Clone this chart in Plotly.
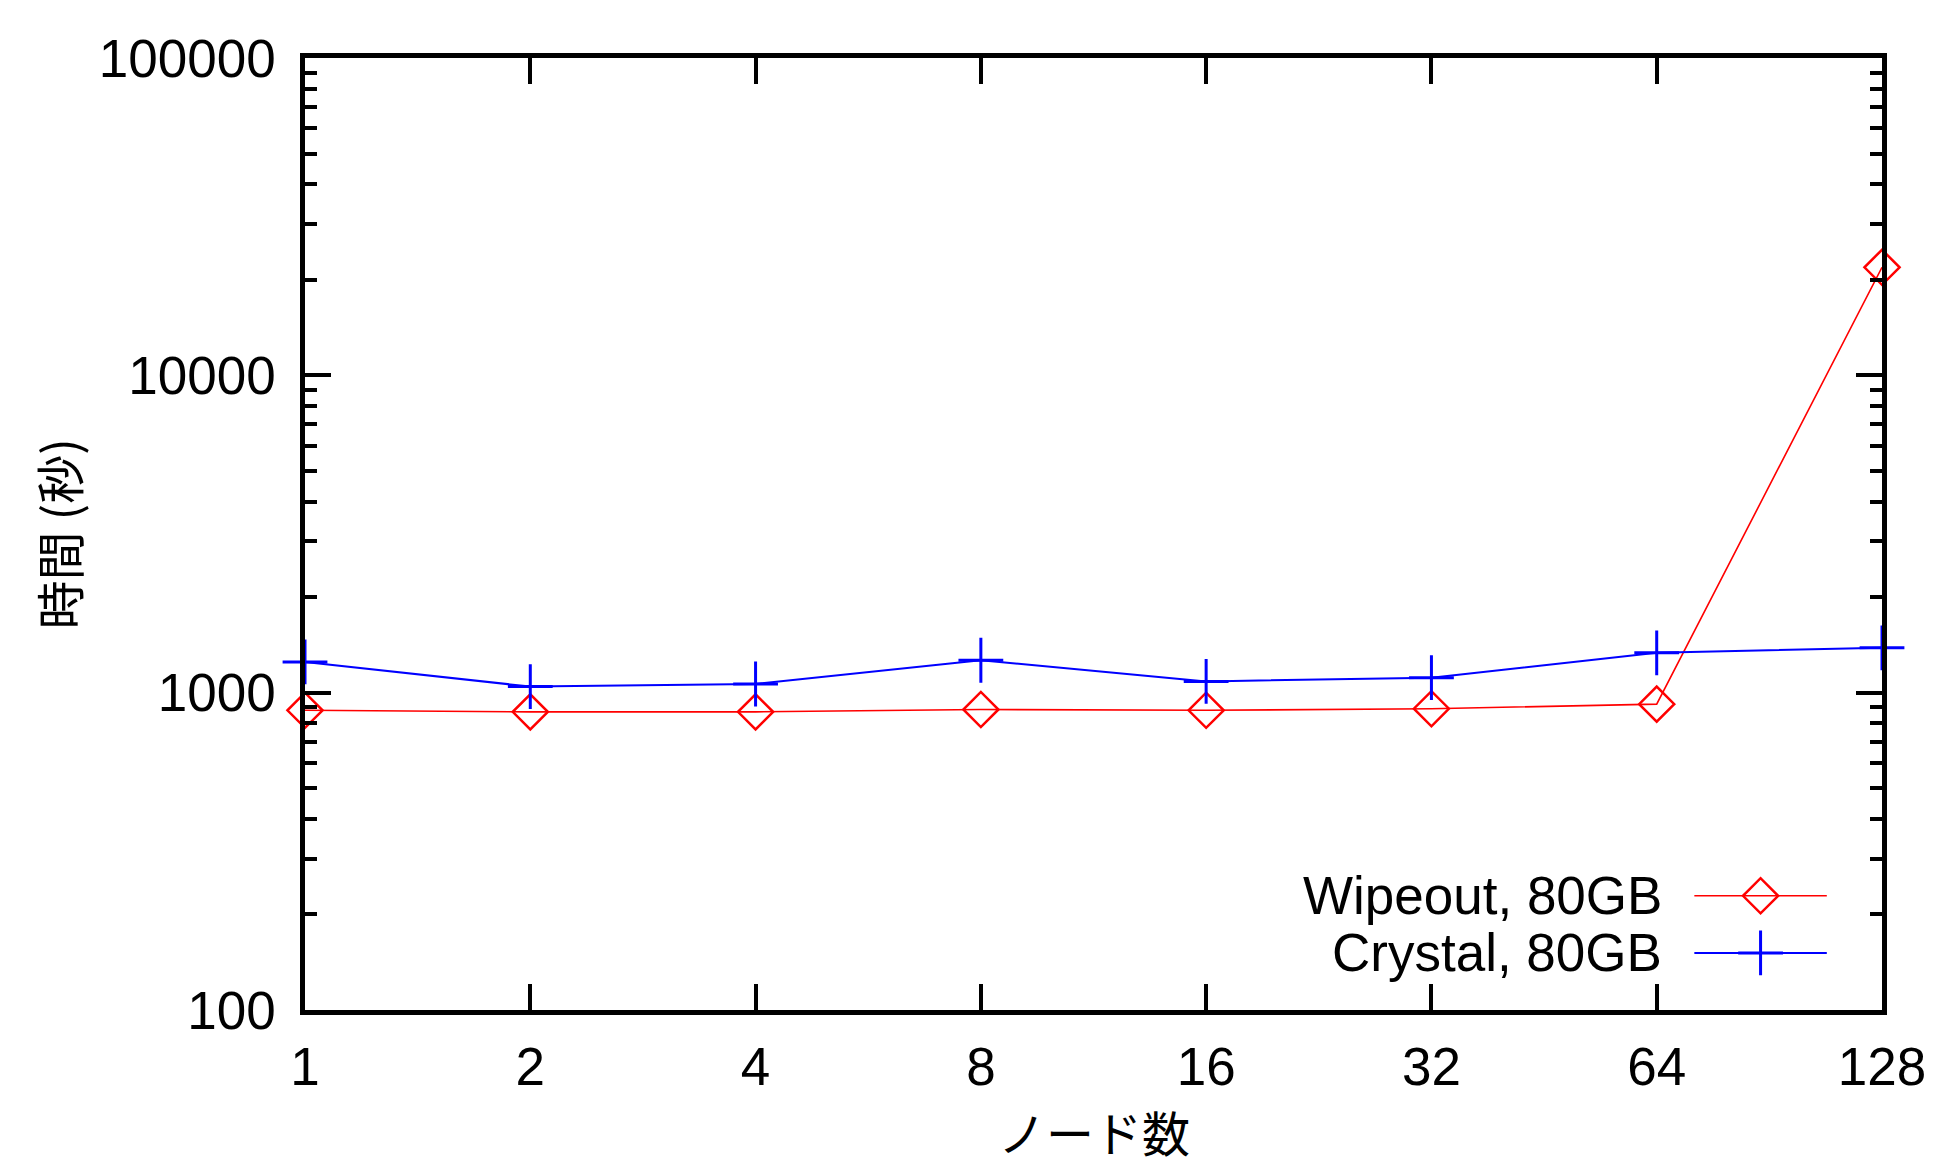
import plotly.graph_objects as go

nodes = [1, 2, 4, 8, 16, 32, 64, 128]
node_labels = ["1", "2", "4", "8", "16", "32", "64", "128"]
wipeout = [880, 870, 870, 885, 880, 890, 920, 21900]
crystal = [1250, 1045, 1065, 1265, 1085, 1115, 1335, 1385]
y_ticks = [100, 1000, 10000, 100000]
y_tick_labels = ["100", "1000", "10000", "100000"]
y_minor = [m * 10 ** e for e in (2, 3, 4) for m in range(2, 10)]

RED = "#ff0000"
BLUE = "#0000ff"
FONT = "Liberation Sans, Arial, Noto Sans CJK JP"

fig = go.Figure()
fig.add_trace(go.Scatter(
    x=nodes, y=wipeout, mode="lines+markers", name="Wipeout, 80GB",
    line=dict(color=RED, width=1.6),
    marker=dict(symbol="diamond-open", size=27, color=RED, line=dict(width=2.5, color=RED)),
    cliponaxis=False, showlegend=False))
fig.add_trace(go.Scatter(
    x=nodes, y=crystal, mode="lines+markers", name="Crystal, 80GB",
    line=dict(color=BLUE, width=2),
    marker=dict(symbol="cross-thin", size=32, color=BLUE, line=dict(width=3, color=BLUE)),
    cliponaxis=False, showlegend=False))

# manual gnuplot-style legend (text left, sample right)
legend_rows = [("Wipeout, 80GB", RED, "diamond-open", 27, 0.12, 1.6),
               ("Crystal, 80GB", BLUE, "cross-thin", 32, 0.06, 2)]
for name, col, sym, sz, yy, lw in legend_rows:
    fig.add_trace(go.Scatter(x=[0.881, 0.965], y=[yy, yy], mode="lines",
                             line=dict(color=col, width=lw), xaxis="x2", yaxis="y2",
                             showlegend=False, hoverinfo="skip"))
    fig.add_trace(go.Scatter(x=[0.923], y=[yy], mode="markers",
                             marker=dict(symbol=sym, size=sz, color=col,
                                         line=dict(width=3 if sym == "cross-thin" else 2.5, color=col)),
                             xaxis="x2", yaxis="y2", showlegend=False, hoverinfo="skip"))
    fig.add_annotation(x=0.862, y=yy, xref="paper", yref="paper", text=name,
                       showarrow=False, xanchor="right", yanchor="middle",
                       font=dict(family=FONT, size=53, color="black"))

fig.add_annotation(x=0.5, y=-0.127, xref="paper", yref="paper", text="ノード数",
                   showarrow=False, xanchor="center", yanchor="middle",
                   font=dict(family="Noto Sans CJK JP", size=48, color="black"))
fig.add_annotation(x=-0.157, y=0.5, xref="paper", yref="paper", text="時間 (秒)",
                   showarrow=False, xanchor="center", yanchor="middle", textangle=-90,
                   font=dict(family="Noto Sans CJK JP", size=49, color="black"))

fig.update_layout(
    width=1941, height=1171,
    margin=dict(l=305, r=59, t=58, b=161),
    paper_bgcolor="white", plot_bgcolor="white",
    font=dict(family=FONT, size=53, color="black"),
    xaxis=dict(type="log", range=[0, 2.10721], tickvals=nodes, ticktext=node_labels,
               showgrid=False, zeroline=False, showline=True, linecolor="black", linewidth=4.5,
               mirror="allticks", ticks="inside", ticklen=26, tickwidth=3.5, tickcolor="black",
               ticklabelstandoff=7),
    yaxis=dict(type="log", range=[2, 5], tickvals=y_ticks, ticktext=y_tick_labels,
               showgrid=False, zeroline=False, showline=True, linecolor="black", linewidth=4.5,
               mirror="allticks", ticks="inside", ticklen=26, tickwidth=3.5, tickcolor="black",
               ticklabelstandoff=14,
               minor=dict(tickvals=y_minor, ticks="inside", ticklen=12, tickwidth=3.5,
                          tickcolor="black", showgrid=False)),
    xaxis2=dict(overlaying="x", range=[0, 1], visible=False, fixedrange=True),
    yaxis2=dict(overlaying="y", range=[0, 1], visible=False, fixedrange=True),
)

fig.write_html("out.html", config={"displayModeBar": False},
               post_script="document.body.style.margin='0';document.body.style.overflow='hidden';")
